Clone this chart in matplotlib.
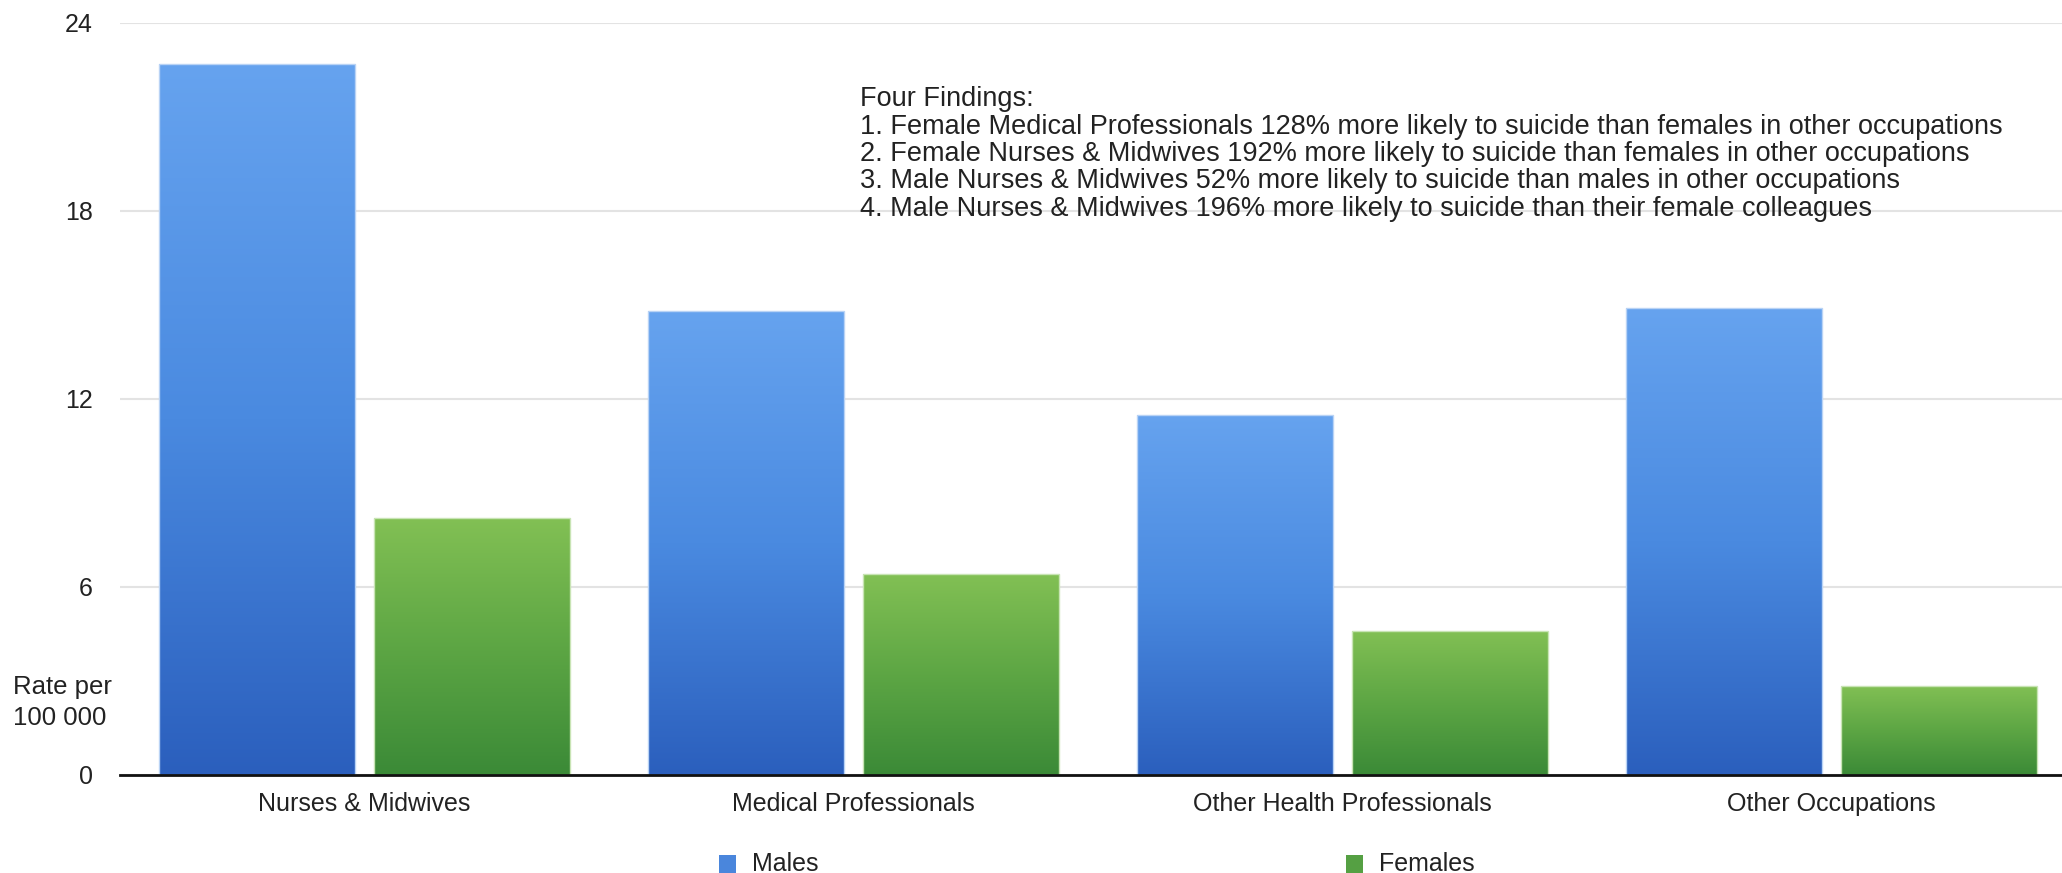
import numpy as np
import matplotlib
matplotlib.use('Agg')
import matplotlib.pyplot as plt
from matplotlib.colors import LinearSegmentedColormap
from matplotlib.patches import Rectangle

plt.rcParams['font.family'] = ['Liberation Sans', 'DejaVu Sans']

categories = ['Nurses & Midwives', 'Medical Professionals', 'Other Health Professionals', 'Other Occupations']
males = [22.7, 14.8, 11.5, 14.9]
females = [8.2, 6.4, 4.6, 2.85]
yticks = [0, 6, 12, 18, 24]
findings = [
    'Four Findings:',
    '1. Female Medical Professionals 128% more likely to suicide than females in other occupations',
    '2. Female Nurses & Midwives 192% more likely to suicide than females in other occupations',
    '3. Male Nurses & Midwives 52% more likely to suicide than males in other occupations',
    '4. Male Nurses & Midwives 196% more likely to suicide than their female colleagues',
]

W, H = 2062, 873
fig = plt.figure(figsize=(W / 100, H / 100), dpi=100)
ax = fig.add_axes([120 / W, 98 / H, 1956 / W, 752 / H])

blue = LinearSegmentedColormap.from_list('b', ['#2b5fbd', '#4a8ae0', '#66a3ef'])
green = LinearSegmentedColormap.from_list('g', ['#3b8a37', '#5da644', '#82c054'])
grad = np.linspace(0, 1, 256).reshape(-1, 1)

x = np.arange(len(categories))
w = 0.40
off = 0.22

def grad_bars(xs, vals, cmap, edge):
    bars = ax.bar(xs, vals, w, color='none', edgecolor=edge, lw=1, zorder=3)
    for b in bars:
        x0, y0 = b.get_x(), b.get_y()
        im = ax.imshow(grad, cmap=cmap, aspect='auto', origin='lower',
                       extent=[x0, x0 + b.get_width(), y0, y0 + b.get_height()], zorder=2)
        im.set_clip_path(b)
    return bars

grad_bars(x - off, males, blue, '#b9d3f5')
grad_bars(x + off, females, green, '#c8e4b4')

ax.set_xlim(-0.5, 3.5)
ax.set_ylim(0, 24)
ax.set_yticks(yticks)
ax.set_xticks(x)
ax.set_xticklabels(categories)
ax.tick_params(length=0, labelsize=18, colors='#222222')
ax.tick_params(axis='y', pad=19.5)
ax.tick_params(axis='x', pad=12)
for lab in ax.get_yticklabels():
    lab.set_horizontalalignment('right')

ax.grid(axis='y', color='#e3e3e3', lw=1.5)
ax.set_axisbelow(True)
for s in ['top', 'right', 'left']:
    ax.spines[s].set_visible(False)
ax.spines['bottom'].set_color('#111111')
ax.spines['bottom'].set_linewidth(2)
ax.spines['bottom'].set_zorder(5)

# y label, two lines at left
for yy, t in [(687, 'Rate per'), (718, '100 000')]:
    fig.text(13 / W, 1 - yy / H, t, fontsize=18.5, color='#222222', ha='left', va='center')

# findings box
for i, t in enumerate(findings):
    fig.text(860 / W, 1 - (99 + 27.5 * i) / H, t, fontsize=19.5, color='#222222',
             ha='left', va='center')

# legend
for sx, tx, label, c in [(719, 752, 'Males', '#4a86dc'), (1346, 1379, 'Females', '#55a043')]:
    fig.add_artist(Rectangle((sx / W, 1 - 873 / H), 17 / W, 18 / H, transform=fig.transFigure,
                             facecolor=c, edgecolor='none'))
    fig.text(tx / W, 1 - 864 / H, label, fontsize=18, color='#222222', ha='left', va='center')

fig.savefig('out.png', dpi=100, facecolor='white')
